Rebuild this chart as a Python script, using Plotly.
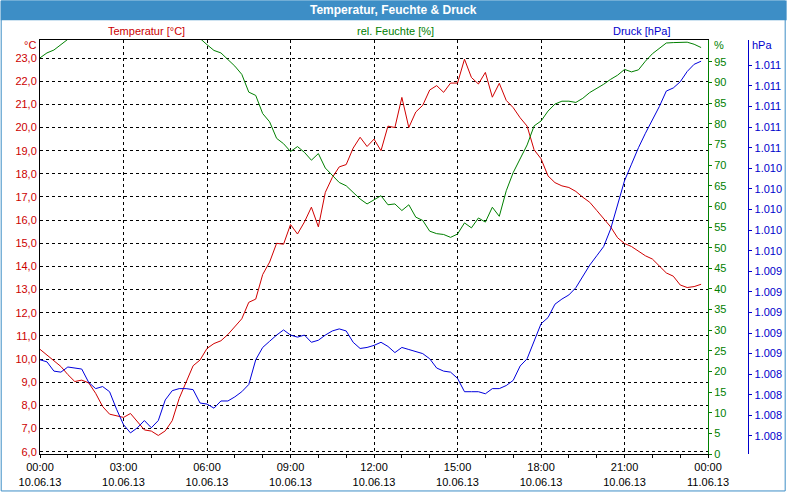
import plotly.graph_objects as go
import pandas as pd

# ---------------- data ----------------
start_time = "2013-06-10 00:00"
n_points = 96
step = "15min"

temperatur = [
    10.42, 10.18, 9.96, 9.68, 9.33, 9.03, 9.09, 8.97, 8.52, 7.95, 7.62, 7.55,
    7.48, 7.65, 7.27, 6.94, 6.89, 6.70, 6.90, 7.34, 8.30, 8.97, 9.71, 9.96,
    10.46, 10.67, 10.79, 11.06, 11.38, 11.74, 12.45, 12.59, 13.65, 14.19, 15.00, 14.96,
    15.81, 15.40, 15.92, 16.56, 15.71, 17.20, 17.84, 18.30, 18.40, 19.11, 19.58, 19.18,
    19.50, 19.00, 20.06, 20.00, 21.30, 20.00, 20.67, 20.96, 21.62, 21.81, 21.52, 21.92,
    21.92, 22.95, 22.16, 21.88, 22.38, 21.31, 21.91, 21.17, 20.86, 20.42, 20.06, 19.04,
    18.65, 17.91, 17.62, 17.48, 17.41, 17.24, 16.99, 16.77, 16.42, 16.04, 15.71, 15.24,
    14.99, 14.86, 14.67, 14.46, 14.32, 14.01, 13.72, 13.58, 13.20, 13.09, 13.13, 13.23,
]

feuchte = [
    96.0, 97.2, 97.9, 99.2, 100.5, 101.5, 102.5, 103.2, 103.8, 104.2, 104.5, 104.6,
    104.6, 104.5, 104.3, 104.0, 103.7, 103.3, 102.9, 102.5, 102.0, 101.6, 101.2, 100.7,
    99.2, 97.8, 97.2, 95.6, 94.0, 92.0, 87.7, 86.9, 82.5, 80.5, 76.5, 75.2,
    73.3, 74.5, 73.1, 71.2, 72.8, 69.3, 67.5, 65.8, 65.0, 63.4, 61.8, 60.6,
    61.6, 62.6, 60.4, 60.6, 59.0, 60.4, 57.4, 56.6, 54.0, 53.4, 53.2, 52.5,
    53.3, 56.0, 54.8, 57.2, 56.2, 59.8, 57.6, 63.8, 68.2, 71.5, 74.9, 79.5,
    80.7, 83.1, 84.8, 85.5, 85.5, 85.2, 86.2, 87.6, 88.5, 89.6, 90.8, 91.8,
    93.2, 92.6, 93.1, 95.2, 97.0, 98.2, 99.6, 99.7, 99.8, 99.8, 99.3, 98.5,
]

druck = [
    1008.54, 1008.52, 1008.43, 1008.42, 1008.47, 1008.46, 1008.45, 1008.32, 1008.26, 1008.28, 1008.23, 1008.06,
    1007.91, 1007.83, 1007.88, 1007.95, 1007.88, 1007.95, 1008.15, 1008.24, 1008.26, 1008.26, 1008.25, 1008.12,
    1008.11, 1008.07, 1008.14, 1008.14, 1008.18, 1008.23, 1008.30, 1008.54, 1008.66, 1008.72, 1008.78, 1008.83,
    1008.78, 1008.76, 1008.78, 1008.71, 1008.73, 1008.78, 1008.82, 1008.84, 1008.82, 1008.71, 1008.65, 1008.66,
    1008.68, 1008.71, 1008.67, 1008.61, 1008.66, 1008.64, 1008.62, 1008.60, 1008.55, 1008.46, 1008.43, 1008.42,
    1008.36, 1008.23, 1008.23, 1008.23, 1008.21, 1008.26, 1008.26, 1008.29, 1008.34, 1008.48, 1008.55, 1008.73,
    1008.89, 1008.95, 1009.08, 1009.13, 1009.17, 1009.24, 1009.35, 1009.46, 1009.55, 1009.64, 1009.81, 1010.04,
    1010.28, 1010.44, 1010.60, 1010.74, 1010.87, 1011.00, 1011.15, 1011.18, 1011.24, 1011.34, 1011.41, 1011.44,
]

temp_ticks = [6, 7, 8, 9, 10, 11, 12, 13, 14, 15, 16, 17, 18, 19, 20, 21, 22, 23]
feuchte_ticks = [0, 5, 10, 15, 20, 25, 30, 35, 40, 45, 50, 55, 60, 65, 70, 75, 80, 85, 90, 95]
druck_ticks = [1007.8, 1008.0, 1008.2, 1008.4, 1008.6, 1008.8, 1009.0, 1009.2, 1009.4, 1009.6,
               1009.8, 1010.0, 1010.2, 1010.4, 1010.6, 1010.8, 1011.0, 1011.2, 1011.4]

title_text = "Temperatur, Feuchte & Druck"
label_temp = "Temperatur [°C]"
label_feuchte = "rel. Feuchte [%]"
label_druck = "Druck [hPa]"

# ---------------- style ----------------
W, H = 800, 500
ML, MR, MT, MB = 40, 20, 40, 40   # paper area: x 40..780, y 40..460
PW = W - ML - MR
PH = H - MT - MB
PLOT_RIGHT = 720
PRESS_AXIS_X = 761

def px(x):
    return (x - ML) / PW

def py(y):
    return (H - MB - y) / PH

RED = "#cc0000"
GREEN = "#008000"
BLUE = "#0000cc"
BAR = "#3d8ec6"
FONT = "Liberation Sans"

times = pd.date_range(start_time, periods=n_points, freq=step)

fig = go.Figure()
fig.add_trace(go.Scatter(x=times, y=temperatur, mode="lines", line=dict(color="#d00000", width=1),
                         yaxis="y", name=label_temp))
fig.add_trace(go.Scatter(x=times, y=feuchte, mode="lines", line=dict(color="#008000", width=1),
                         yaxis="y2", name=label_feuchte))
fig.add_trace(go.Scatter(x=times, y=druck, mode="lines", line=dict(color="#0000dd", width=1),
                         yaxis="y3", name=label_druck))

fig.update_layout(
    width=W, height=H,
    margin=dict(l=ML, r=MR, t=MT, b=MB),
    paper_bgcolor="white", plot_bgcolor="white",
    separators=",.",
    showlegend=False,
    hovermode=False,
    font=dict(family=FONT, size=11, color="black"),
    xaxis=dict(
        domain=[0, px(PLOT_RIGHT)],
        range=["2013-06-10 00:00", "2013-06-11 00:00"],
        type="date",
        tick0="2013-06-10 00:00", dtick=3 * 3600000,
        tickformat="%H:%M<br>%d.%m.%y",
        ticks="outside", ticklen=3, tickcolor="black",
        minor=dict(dtick=3600000, ticks="outside", ticklen=3, tickcolor="black", showgrid=False),
        showline=True, linecolor="black", linewidth=1, mirror=True,
        showgrid=True, gridcolor="black", gridwidth=1, griddash="3px,3px",
        zeroline=False,
        tickfont=dict(family=FONT, size=11, color="black"),
    ),
    yaxis=dict(
        range=[5.9, 23.78],
        tickvals=temp_ticks, tickformat=".1f",
        ticks="", showline=True, linecolor="black", linewidth=1,
        showgrid=True, gridcolor="black", gridwidth=1, griddash="3px,3px",
        zeroline=False,
        tickfont=dict(family=FONT, size=11, color=RED),
    ),
    yaxis2=dict(
        overlaying="y", side="right", anchor="x",
        range=[0, 100.33],
        tickvals=feuchte_ticks,
        ticks="outside", ticklen=3, tickcolor=GREEN,
        showline=True, linecolor=GREEN, linewidth=1,
        showgrid=False, zeroline=False,
        tickfont=dict(family=FONT, size=11, color=GREEN),
    ),
    yaxis3=dict(
        overlaying="y", side="right", anchor="free", position=px(PRESS_AXIS_X),
        range=[1007.625, 1011.646],
        tickvals=druck_ticks, tickformat=",.0f",
        ticks="outside", ticklen=3, tickcolor=BLUE,
        showline=True, linecolor=BLUE, linewidth=1,
        showgrid=False, zeroline=False,
        tickfont=dict(family=FONT, size=11, color=BLUE),
    ),
)

# title bar and outer border
fig.add_shape(type="rect", xref="paper", yref="paper",
              x0=px(0), x1=px(800), y0=py(20), y1=py(0),
              fillcolor=BAR, line=dict(width=0), layer="below")
fig.add_shape(type="rect", xref="paper", yref="paper",
              x0=px(0.5), x1=px(798.5), y0=py(497.5), y1=py(0.5),
              fillcolor="rgba(0,0,0,0)", line=dict(color=BAR, width=1))

annotations = [
    dict(text="<b>" + title_text + "</b>", x=px(400), y=py(10), xanchor="center", yanchor="middle",
         font=dict(family=FONT, size=12, color="white")),
    dict(text=label_temp, x=px(148), y=py(31), xanchor="center", yanchor="middle",
         font=dict(family=FONT, size=11, color=RED)),
    dict(text=label_feuchte, x=px(402), y=py(31), xanchor="center", yanchor="middle",
         font=dict(family=FONT, size=11, color=GREEN)),
    dict(text=label_druck, x=px(652), y=py(31), xanchor="center", yanchor="middle",
         font=dict(family=FONT, size=11, color=BLUE)),
    dict(text="°C", x=px(38), y=py(45), xanchor="right", yanchor="middle",
         font=dict(family=FONT, size=11, color=RED)),
    dict(text="%", x=px(724), y=py(45), xanchor="left", yanchor="middle",
         font=dict(family=FONT, size=11, color=GREEN)),
    dict(text="hPa", x=px(763), y=py(45), xanchor="left", yanchor="middle",
         font=dict(family=FONT, size=11, color=BLUE)),
]
for a in annotations:
    fig.add_annotation(xref="paper", yref="paper", showarrow=False, **a)

fig.write_html("out.html")
